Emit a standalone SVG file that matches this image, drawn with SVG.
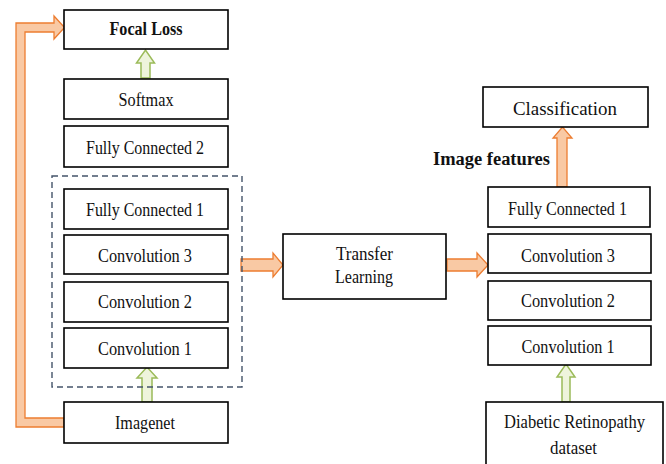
<svg xmlns="http://www.w3.org/2000/svg" width="666" height="464" viewBox="0 0 666 464">
<style>
.box{fill:#fff;stroke:#000;stroke-width:1.6}
.t{font-family:"Liberation Serif","Times New Roman",serif;font-size:18px;fill:#111;text-anchor:middle}
.b{font-weight:bold}
.org{fill:#f9c9a4;stroke:#ed7d31;stroke-width:1.3;stroke-linejoin:miter}
.grn{fill:#eef4dc;stroke:#9bbb59;stroke-width:1.5}
.dash{fill:none;stroke:#44546a;stroke-width:1.4;stroke-dasharray:6 4}
</style>
<rect width="666" height="464" fill="#fff"/>
<g id="connectors">
<path class="org" d="M64,427 L16,427 L16,23 L54,23 L54,16 L64.5,27.5 L54,39 L54,32 L25,32 L25,418 L64,418 Z"/>
<path class="grn" d="M141,78 L141,63 L136.5,63 L145.5,50 L154.5,63 L150,63 L150,78 Z"/>
<path class="grn" d="M142,402 L142,378 L137,378 L147,367 L157,378 L152,378 L152,402 Z"/>
<path class="grn" d="M562,402 L562,377 L557,377 L566,364 L575,377 L570,377 L570,402 Z"/>
<path class="org" d="M557,187 L557,138 L553,138 L562.5,127 L572,138 L567,138 L567,187 Z"/>
<path class="org" d="M241,259 L273,259 L273,253 L283,265 L273,277 L273,271 L241,271 Z"/>
<path class="org" d="M447,259 L477,259 L477,253 L488,265 L477,277 L477,271 L447,271 Z"/>
</g>
<rect class="dash" x="52" y="176" width="190" height="211"/>
<g id="focal-loss"><rect class="box" x="64" y="10" width="164" height="39"/><text class="t b" x="146" y="35" font-size="17" textLength="73" lengthAdjust="spacingAndGlyphs">Focal Loss</text></g>
<g id="softmax"><rect class="box" x="64" y="79" width="164" height="40"/><text class="t" x="146" y="106" textLength="55" lengthAdjust="spacingAndGlyphs">Softmax</text></g>
<g id="fc2"><rect class="box" x="64" y="126" width="164" height="41"/><text class="t" x="145" y="154" textLength="118" lengthAdjust="spacingAndGlyphs">Fully Connected 2</text></g>
<g id="fc1-left"><rect class="box" x="64" y="189" width="164" height="40"/><text class="t" x="145" y="216" textLength="118" lengthAdjust="spacingAndGlyphs">Fully Connected 1</text></g>
<g id="conv3-left"><rect class="box" x="64" y="235" width="164" height="39"/><text class="t" x="145" y="262" textLength="94" lengthAdjust="spacingAndGlyphs">Convolution 3</text></g>
<g id="conv2-left"><rect class="box" x="64" y="282" width="164" height="40"/><text class="t" x="145" y="308" textLength="94" lengthAdjust="spacingAndGlyphs">Convolution 2</text></g>
<g id="conv1-left"><rect class="box" x="64" y="328" width="164" height="40"/><text class="t" x="145" y="355" textLength="94" lengthAdjust="spacingAndGlyphs">Convolution 1</text></g>
<g id="imagenet"><rect class="box" x="64" y="402" width="164" height="41"/><text class="t" x="145" y="429" textLength="60" lengthAdjust="spacingAndGlyphs">Imagenet</text></g>
<g id="transfer"><rect class="box" x="283" y="234" width="163" height="65"/><text class="t" x="364.5" y="260" textLength="57" lengthAdjust="spacingAndGlyphs">Transfer</text><text class="t" x="364" y="283" textLength="58" lengthAdjust="spacingAndGlyphs">Learning</text></g>
<g id="classification"><rect class="box" x="483" y="87" width="165" height="40"/><text class="t" x="565" y="115" font-size="20" textLength="104" lengthAdjust="spacingAndGlyphs">Classification</text></g>
<text class="t b" x="491.5" y="165" font-size="21" textLength="117" lengthAdjust="spacingAndGlyphs">Image features</text>
<g id="fc1-right"><rect class="box" x="488" y="187" width="162" height="40"/><text class="t" x="567.5" y="215" textLength="119" lengthAdjust="spacingAndGlyphs">Fully Connected 1</text></g>
<g id="conv3-right"><rect class="box" x="488" y="234" width="163" height="39"/><text class="t" x="568" y="262" textLength="94" lengthAdjust="spacingAndGlyphs">Convolution 3</text></g>
<g id="conv2-right"><rect class="box" x="488" y="281" width="163" height="39"/><text class="t" x="568" y="307" textLength="94" lengthAdjust="spacingAndGlyphs">Convolution 2</text></g>
<g id="conv1-right"><rect class="box" x="488" y="326" width="163" height="39"/><text class="t" x="568" y="353" textLength="93" lengthAdjust="spacingAndGlyphs">Convolution 1</text></g>
<g id="diabetic"><rect class="box" x="486" y="402" width="177" height="70"/><text class="t" x="574.5" y="428" textLength="141" lengthAdjust="spacingAndGlyphs">Diabetic Retinopathy</text><text class="t" x="573.5" y="454" textLength="47" lengthAdjust="spacingAndGlyphs">dataset</text></g>
</svg>
